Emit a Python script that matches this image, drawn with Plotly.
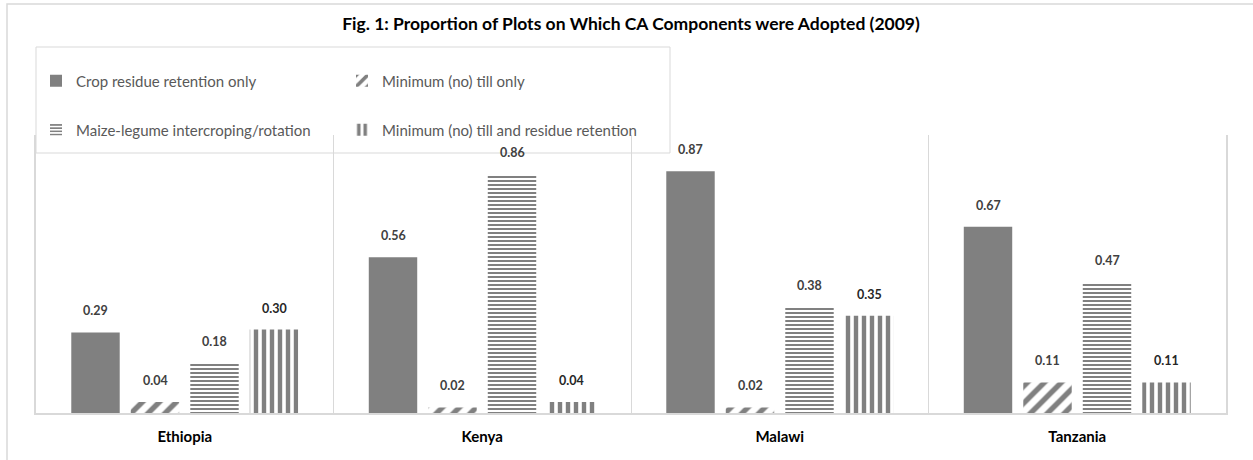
import plotly.graph_objects as go

countries = ["Ethiopia", "Kenya", "Malawi", "Tanzania"]
series_names = [
    "Crop residue retention only",
    "Minimum (no) till only",
    "Maize-legume intercroping/rotation",
    "Minimum (no) till and residue retention",
]
residue_only = [0.29, 0.56, 0.87, 0.67]
min_till_only = [0.04, 0.02, 0.02, 0.11]
maize_legume = [0.18, 0.86, 0.38, 0.47]
min_till_residue = [0.30, 0.04, 0.35, 0.11]
label_text = [
    ["0.29", "0.56", "0.87", "0.67"],
    ["0.04", "0.02", "0.02", "0.11"],
    ["0.18", "0.86", "0.38", "0.47"],
    ["0.30", "0.04", "0.35", "0.11"],
]

values = [residue_only, min_till_only, maize_legume, min_till_residue]
patterns = ["", "/", "-", "|"]
psizes = [8, 12, 4, 8]
psolid = [0.5, 0.45, 0.5, 0.55]
legend_ids = ["legend", "legend2", "legend3", "legend4"]
label_colors = ["#404040", "#404040", "#404040", "#262626"]

GRAY = "#808080"
LINE = "#d9d9d9"
FONT = "Lato"

W, H = 1253, 460
ML, MR, MT, MB = 36, 27, 135, 47
PW = W - ML - MR
PH = H - MT - MB

fig = go.Figure()
for i, (name, vals) in enumerate(zip(series_names, values)):
    marker = dict(color=GRAY, line=dict(width=0))
    if patterns[i]:
        marker["pattern"] = dict(shape=patterns[i], fgcolor=GRAY, bgcolor="white",
                                 size=psizes[i], solidity=psolid[i], fillmode="replace")
    fig.add_trace(go.Bar(name=name, x=countries, y=vals, marker=marker,
                         legend=legend_ids[i], hoverinfo="skip"))

# data labels
pitch = PW / 4 * 0.8 / 4
for i, vals in enumerate(values):
    off = (i - 1.5) * pitch
    for c, v, t in zip(countries, vals, label_text[i]):
        fig.add_annotation(x=c, y=v, xref="x", yref="y", text=f"<b>{t}</b>",
                           showarrow=False, xshift=off, yshift=12, yanchor="bottom",
                           font=dict(family=FONT, size=12.5, color=label_colors[i]))

def px_to_paper_x(px):
    return (px - ML) / PW

def px_to_paper_y(py):
    return (H - MB - py) / PH

shapes = [
    # outer chart border
    dict(type="rect", xref="paper", yref="paper",
         x0=px_to_paper_x(7), x1=px_to_paper_x(1270), y0=px_to_paper_y(480), y1=px_to_paper_y(4),
         line=dict(color=LINE, width=1.5), fillcolor="rgba(0,0,0,0)", layer="below"),
    # legend box
    dict(type="rect", xref="paper", yref="paper",
         x0=0, x1=px_to_paper_x(670), y0=px_to_paper_y(153), y1=px_to_paper_y(47),
         line=dict(color=LINE, width=1), fillcolor="rgba(0,0,0,0)"),
]

legend_common = dict(orientation="h", xanchor="left", yanchor="middle",
                     font=dict(family=FONT, size=15, color="#595959"),
                     bgcolor="rgba(0,0,0,0)", borderwidth=0, itemclick=False,
                     itemdoubleclick=False)

legend_pos = {"legend": (36, 81), "legend2": (342, 81), "legend3": (36, 130), "legend4": (342, 130)}
legend_layout = {k: dict(x=px_to_paper_x(px), y=px_to_paper_y(py), **legend_common)
                 for k, (px, py) in legend_pos.items()}

fig.update_layout(
    width=W, height=H,
    margin=dict(l=ML, r=MR, t=MT, b=MB),
    paper_bgcolor="white", plot_bgcolor="white",
    barmode="group", bargap=0.2, bargroupgap=0.186,
    title=dict(text="<b>Fig. 1: Proportion of Plots on Which CA Components were Adopted (2009)</b>",
               x=0.5, xanchor="center", xref="paper", y=1 - 24 / H, yanchor="middle", yref="container",
               font=dict(family=FONT, size=17.5, color="#000000")),
    xaxis=dict(type="category", tickson="boundaries", showgrid=True, gridcolor=LINE, gridwidth=1,
               showline=True, linecolor=LINE, linewidth=1.5, ticks="",
               ticklabelstandoff=9,
               tickfont=dict(family=FONT, size=15, color="#000000"),
               tickvals=countries, ticktext=[f"<b>{c}</b>" for c in countries]),
    yaxis=dict(range=[0, 1], showline=True, mirror=True, linecolor=LINE, linewidth=1.5,
               showgrid=False, zeroline=False, showticklabels=False, ticks=""),
    shapes=shapes,
    showlegend=True,
    **legend_layout,
)

fig.write_html("out.html")
